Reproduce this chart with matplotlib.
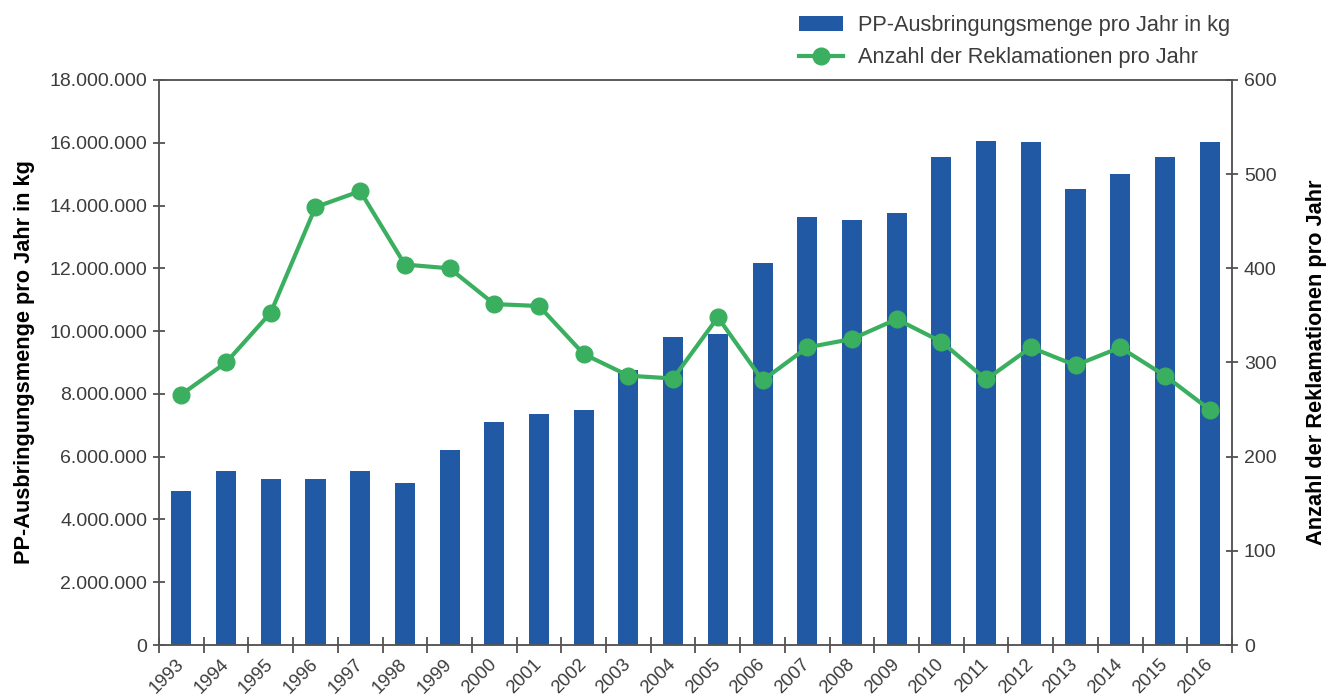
import numpy as np
import matplotlib
matplotlib.use("Agg")
import matplotlib.pyplot as plt
from matplotlib.ticker import FuncFormatter

# data
years = list(range(1993, 2017))
menge_kg = [4.90e6, 5.55e6, 5.30e6, 5.30e6, 5.55e6, 5.15e6, 6.20e6, 7.10e6,
            7.36e6, 7.49e6, 8.76e6, 9.81e6, 9.91e6, 12.17e6, 13.63e6, 13.54e6,
            13.76e6, 15.55e6, 16.06e6, 16.02e6, 14.53e6, 15.00e6, 15.55e6, 16.02e6]
reklamationen = [266, 300, 353, 465, 482, 404, 400, 362, 360, 309, 286, 283,
                 348, 281, 316, 325, 346, 322, 282, 316, 297, 316, 286, 250]

left_ticks = list(range(0, 18_000_001, 2_000_000))
right_ticks = list(range(0, 601, 100))

BLUE, GREEN, INK, AXIS = "#2159A5", "#3AAF5F", "#3C3C3C", "#555555"
REG = "Liberation Sans"

plt.rcParams.update({"font.family": REG, "text.color": INK,
                     "xtick.color": INK, "ytick.color": INK})

fig = plt.figure(figsize=(13.38, 6.95), dpi=100)
ax = fig.add_axes([159 / 1338, 50 / 695, 1073 / 1338, 565 / 695])
ax2 = ax.twinx()

x = np.arange(len(years))
ax.bar(x, menge_kg, width=0.45, color=BLUE, label="PP-Ausbringungsmenge pro Jahr in kg")
ax2.plot(x, reklamationen, color=GREEN, lw=3, marker="o", ms=12,
         label="Anzahl der Reklamationen pro Jahr")

ax.set_xlim(-0.5, len(years) - 0.5)
ax.set_ylim(0, 18_000_000)
ax2.set_ylim(0, 600)

ax.set_yticks(left_ticks)
ax.yaxis.set_major_formatter(FuncFormatter(lambda v, p: f"{int(v):,}".replace(",", ".")))
ax2.set_yticks(right_ticks)

ax.set_xticks(x)
ax.set_xticklabels([str(y) for y in years], rotation=45, ha="right", va="center",
                   rotation_mode="anchor", fontsize=13.3)
ax.tick_params(axis="x", which="major", length=0, pad=12)
ax.set_xticks(np.arange(-0.5, len(years)), minor=True)
ax.tick_params(axis="x", which="minor", direction="inout", length=11.5, width=1.1, color="#333333")
ax.tick_params(axis="y", direction="inout", length=9, width=1.1, color="#333333", labelsize=14, pad=4)
ax2.tick_params(axis="y", direction="inout", length=9, width=1.1, color="#333333", labelsize=14, pad=4)

for a in (ax, ax2):
    for s in a.spines.values():
        s.set_color(AXIS)
        s.set_linewidth(1.1)

ax.set_ylabel("PP-Ausbringungsmenge pro Jahr in kg", weight="bold",
              fontsize=15.7, color="black", labelpad=10)
ax2.set_ylabel("Anzahl der Reklamationen pro Jahr", weight="bold",
               fontsize=15.7, color="black", labelpad=21)

h1, l1 = ax.get_legend_handles_labels()
h2, l2 = ax2.get_legend_handles_labels()
fig.legend(h1 + h2, l1 + l2, loc="upper left", bbox_to_anchor=(788 / 1338, 1 - 4 / 695),
           frameon=False, fontsize=15.7, borderpad=0, handlelength=2.0,
           handletextpad=0.72, labelspacing=0.52)

fig.savefig("out.png", dpi=100)
